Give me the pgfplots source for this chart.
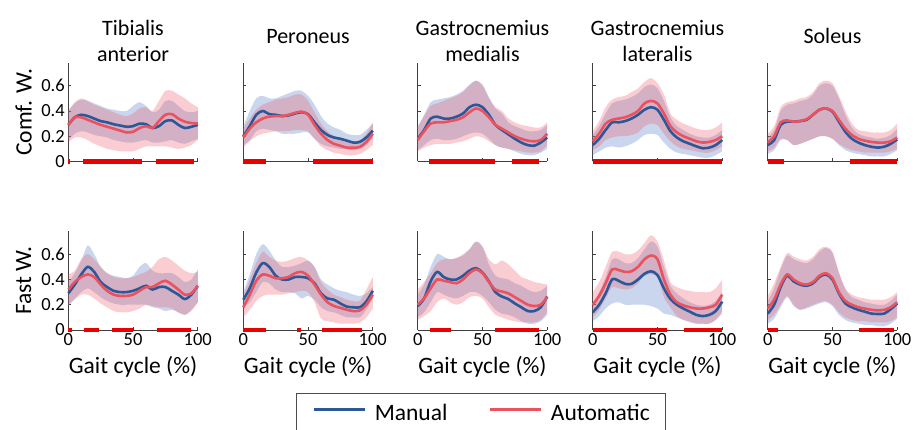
\documentclass[border=0pt]{standalone}
\usepackage{pgfplots}
\pgfplotsset{compat=1.18}
\usepackage{pgfplotstable}
\usepgfplotslibrary{fillbetween}
\usepackage{fontspec}
\setmainfont{Carlito}

\definecolor{manualc}{RGB}{44,87,152}
\definecolor{autoc}{RGB}{235,82,95}
\definecolor{manualfill}{RGB}{90,130,200}
\definecolor{autofill}{RGB}{240,90,105}
\definecolor{sigred}{RGB}{235,0,0}

\newcommand\labelfont{\fontsize{23.5}{28}\selectfont}

% columns: gait cycle (%), manual mean / lower / upper, automatic mean / lower / upper
\pgfplotstableread{
x   bm    blo  bhi  rm    rlo  rhi
0   0.29  0.17 0.40 0.29  0.15 0.40
5   0.35  0.22 0.46 0.35  0.19 0.47
10  0.37  0.24 0.49 0.35  0.19 0.50
15  0.36  0.23 0.48 0.33  0.17 0.48
20  0.34  0.21 0.46 0.31  0.14 0.45
25  0.32  0.20 0.44 0.29  0.12 0.43
30  0.31  0.19 0.42 0.275 0.10 0.41
35  0.295 0.17 0.41 0.26  0.09 0.39
40  0.285 0.16 0.40 0.245 0.08 0.37
45  0.275 0.15 0.40 0.23  0.08 0.36
50  0.28  0.15 0.44 0.235 0.08 0.38
55  0.30  0.16 0.47 0.265 0.10 0.42
60  0.295 0.17 0.44 0.28  0.12 0.43
65  0.265 0.15 0.39 0.265 0.12 0.40
70  0.28  0.15 0.41 0.32  0.12 0.48
75  0.32  0.16 0.48 0.37  0.12 0.56
80  0.325 0.17 0.48 0.375 0.11 0.56
85  0.29  0.15 0.44 0.34  0.10 0.53
90  0.265 0.14 0.40 0.315 0.11 0.50
95  0.275 0.16 0.39 0.305 0.13 0.46
100 0.29  0.18 0.40 0.30  0.17 0.43
}\taComf

\pgfplotstableread{
x   bm    blo  bhi  rm    rlo  rhi
0   0.20  0.13 0.28 0.19  0.11 0.26
5   0.28  0.17 0.40 0.26  0.16 0.34
10  0.37  0.24 0.50 0.31  0.20 0.41
15  0.40  0.26 0.52 0.34  0.22 0.45
20  0.375 0.25 0.50 0.355 0.23 0.47
25  0.37  0.24 0.50 0.36  0.24 0.49
30  0.36  0.22 0.52 0.36  0.24 0.50
35  0.365 0.22 0.54 0.37  0.24 0.51
40  0.38  0.22 0.56 0.385 0.25 0.53
45  0.39  0.23 0.56 0.395 0.25 0.53
50  0.375 0.23 0.52 0.37  0.24 0.48
55  0.31  0.18 0.45 0.29  0.18 0.39
60  0.25  0.14 0.36 0.22  0.12 0.30
65  0.21  0.12 0.30 0.17  0.09 0.24
70  0.19  0.11 0.27 0.14  0.07 0.20
75  0.18  0.10 0.25 0.125 0.06 0.18
80  0.165 0.10 0.22 0.11  0.05 0.17
85  0.15  0.09 0.21 0.11  0.05 0.16
90  0.155 0.10 0.21 0.115 0.06 0.17
95  0.19  0.13 0.25 0.155 0.09 0.22
100 0.245 0.18 0.30 0.22  0.13 0.31
}\peComf

\pgfplotstableread{
x   bm    blo  bhi  rm    rlo  rhi
0   0.18  0.09 0.27 0.17  0.08 0.28
5   0.25  0.13 0.37 0.24  0.11 0.36
10  0.34  0.17 0.47 0.30  0.13 0.44
15  0.355 0.18 0.49 0.31  0.14 0.46
20  0.34  0.17 0.50 0.31  0.14 0.48
25  0.34  0.17 0.51 0.32  0.14 0.50
30  0.355 0.18 0.53 0.33  0.15 0.52
35  0.38  0.20 0.56 0.35  0.16 0.55
40  0.43  0.22 0.61 0.39  0.18 0.60
45  0.45  0.23 0.64 0.42  0.20 0.64
50  0.43  0.22 0.61 0.40  0.19 0.60
55  0.37  0.18 0.51 0.35  0.16 0.50
60  0.29  0.13 0.42 0.29  0.13 0.43
65  0.25  0.11 0.38 0.26  0.11 0.40
70  0.215 0.10 0.31 0.23  0.10 0.34
75  0.18  0.08 0.28 0.20  0.09 0.31
80  0.15  0.06 0.26 0.18  0.08 0.29
85  0.13  0.05 0.24 0.165 0.07 0.28
90  0.125 0.05 0.24 0.16  0.07 0.27
95  0.15  0.07 0.25 0.17  0.08 0.27
100 0.19  0.10 0.29 0.22  0.13 0.31
}\gmComf

\pgfplotstableread{
x   bm    blo  bhi  rm    rlo  rhi
0   0.13  0.05 0.21 0.16  0.09 0.24
5   0.18  0.08 0.28 0.22  0.12 0.32
10  0.25  0.11 0.38 0.30  0.17 0.43
15  0.31  0.12 0.46 0.33  0.19 0.49
20  0.31  0.11 0.48 0.34  0.20 0.51
25  0.32  0.12 0.49 0.35  0.20 0.52
30  0.34  0.14 0.51 0.37  0.21 0.55
35  0.37  0.17 0.54 0.40  0.23 0.58
40  0.41  0.21 0.59 0.46  0.28 0.63
45  0.43  0.22 0.61 0.48  0.30 0.66
50  0.41  0.21 0.58 0.46  0.29 0.62
55  0.33  0.15 0.48 0.38  0.22 0.53
60  0.24  0.10 0.35 0.28  0.16 0.38
65  0.19  0.07 0.28 0.23  0.12 0.33
70  0.16  0.06 0.25 0.20  0.10 0.30
75  0.14  0.05 0.22 0.18  0.09 0.28
80  0.12  0.04 0.20 0.16  0.08 0.26
85  0.105 0.03 0.19 0.15  0.07 0.25
90  0.11  0.03 0.19 0.155 0.07 0.25
95  0.13  0.05 0.21 0.17  0.09 0.27
100 0.17  0.08 0.25 0.20  0.12 0.31
}\glComf

\pgfplotstableread{
x   bm    blo  bhi  rm    rlo  rhi
0   0.13  0.06 0.19 0.15  0.08 0.22
5   0.17  0.09 0.25 0.20  0.11 0.28
10  0.29  0.17 0.40 0.31  0.18 0.43
15  0.315 0.17 0.45 0.325 0.17 0.47
20  0.315 0.13 0.46 0.315 0.13 0.48
25  0.32  0.14 0.48 0.32  0.14 0.50
30  0.33  0.16 0.49 0.335 0.16 0.51
35  0.37  0.18 0.53 0.37  0.18 0.55
40  0.41  0.20 0.60 0.41  0.20 0.62
45  0.42  0.20 0.62 0.42  0.20 0.64
50  0.395 0.18 0.60 0.40  0.18 0.62
55  0.315 0.13 0.50 0.33  0.14 0.52
60  0.235 0.09 0.37 0.26  0.11 0.40
65  0.18  0.07 0.27 0.21  0.09 0.30
70  0.15  0.06 0.22 0.18  0.08 0.25
75  0.13  0.05 0.20 0.165 0.07 0.24
80  0.117 0.04 0.19 0.155 0.07 0.23
85  0.11  0.04 0.18 0.15  0.07 0.23
90  0.117 0.04 0.19 0.15  0.07 0.23
95  0.14  0.06 0.21 0.16  0.08 0.25
100 0.175 0.09 0.26 0.19  0.10 0.30
}\soComf

\pgfplotstableread{
x   bm    blo  bhi  rm    rlo  rhi
0   0.29  0.20 0.38 0.32  0.19 0.44
5   0.36  0.25 0.45 0.38  0.24 0.47
10  0.44  0.30 0.55 0.42  0.28 0.56
15  0.50  0.33 0.67 0.44  0.28 0.60
20  0.46  0.30 0.60 0.42  0.25 0.56
25  0.38  0.26 0.50 0.36  0.21 0.50
30  0.34  0.23 0.45 0.31  0.18 0.45
35  0.31  0.21 0.43 0.28  0.15 0.42
40  0.30  0.20 0.42 0.27  0.14 0.41
45  0.30  0.20 0.41 0.27  0.14 0.41
50  0.31  0.20 0.43 0.28  0.15 0.42
55  0.33  0.20 0.50 0.31  0.17 0.44
60  0.35  0.20 0.53 0.34  0.20 0.46
65  0.32  0.18 0.47 0.34  0.19 0.50
70  0.34  0.17 0.45 0.37  0.18 0.56
75  0.34  0.15 0.45 0.39  0.18 0.58
80  0.31  0.16 0.45 0.36  0.17 0.55
85  0.28  0.14 0.42 0.32  0.14 0.51
90  0.245 0.12 0.38 0.28  0.12 0.47
95  0.28  0.16 0.40 0.29  0.15 0.45
100 0.35  0.22 0.48 0.35  0.22 0.46
}\taFast

\pgfplotstableread{
x   bm    blo  bhi  rm    rlo  rhi
0   0.24  0.18 0.30 0.18  0.10 0.27
5   0.33  0.22 0.44 0.28  0.16 0.40
10  0.455 0.30 0.60 0.39  0.23 0.53
15  0.53  0.38 0.68 0.44  0.27 0.62
20  0.50  0.37 0.63 0.43  0.28 0.58
25  0.43  0.32 0.55 0.41  0.28 0.55
30  0.40  0.30 0.50 0.41  0.28 0.54
35  0.40  0.30 0.50 0.42  0.29 0.55
40  0.42  0.29 0.51 0.45  0.30 0.57
45  0.42  0.25 0.53 0.46  0.31 0.58
50  0.41  0.27 0.55 0.43  0.30 0.55
55  0.37  0.24 0.50 0.36  0.22 0.50
60  0.29  0.18 0.40 0.28  0.09 0.38
65  0.25  0.15 0.36 0.22  0.07 0.32
70  0.24  0.14 0.33 0.19  0.06 0.28
75  0.21  0.12 0.31 0.175 0.05 0.26
80  0.185 0.10 0.30 0.16  0.05 0.24
85  0.18  0.10 0.28 0.15  0.05 0.23
90  0.18  0.10 0.27 0.155 0.06 0.23
95  0.225 0.16 0.29 0.20  0.10 0.32
100 0.31  0.25 0.34 0.28  0.17 0.42
}\peFast

\pgfplotstableread{
x   bm    blo  bhi  rm    rlo  rhi
0   0.19  0.10 0.28 0.20  0.08 0.32
5   0.25  0.14 0.36 0.25  0.11 0.38
10  0.385 0.22 0.50 0.33  0.15 0.45
15  0.46  0.30 0.60 0.40  0.22 0.53
20  0.42  0.28 0.58 0.39  0.25 0.56
25  0.40  0.26 0.56 0.38  0.22 0.56
30  0.40  0.25 0.57 0.37  0.20 0.57
35  0.43  0.27 0.59 0.40  0.22 0.60
40  0.47  0.30 0.64 0.45  0.26 0.64
45  0.49  0.30 0.70 0.48  0.27 0.70
50  0.455 0.27 0.66 0.45  0.25 0.66
55  0.385 0.22 0.52 0.38  0.18 0.56
60  0.30  0.16 0.43 0.32  0.12 0.52
65  0.265 0.13 0.41 0.305 0.10 0.55
70  0.245 0.12 0.40 0.29  0.08 0.52
75  0.21  0.10 0.37 0.26  0.07 0.47
80  0.18  0.07 0.35 0.23  0.06 0.42
85  0.15  0.05 0.32 0.20  0.06 0.40
90  0.15  0.05 0.30 0.19  0.06 0.38
95  0.18  0.07 0.31 0.20  0.08 0.37
100 0.265 0.12 0.35 0.26  0.14 0.36
}\gmFast

\pgfplotstableread{
x   bm    blo  bhi  rm    rlo  rhi
0   0.14  0.07 0.21 0.20  0.10 0.30
5   0.20  0.11 0.30 0.27  0.16 0.38
10  0.29  0.17 0.42 0.37  0.25 0.50
15  0.40  0.21 0.56 0.48  0.34 0.62
20  0.39  0.22 0.56 0.475 0.33 0.62
25  0.365 0.20 0.53 0.46  0.32 0.60
30  0.365 0.20 0.53 0.465 0.33 0.60
35  0.40  0.20 0.57 0.50  0.37 0.63
40  0.445 0.20 0.64 0.56  0.43 0.69
45  0.465 0.19 0.70 0.59  0.44 0.75
50  0.435 0.17 0.66 0.56  0.42 0.70
55  0.33  0.13 0.50 0.40  0.26 0.55
60  0.245 0.12 0.35 0.28  0.18 0.38
65  0.20  0.10 0.29 0.22  0.11 0.34
70  0.17  0.08 0.25 0.195 0.08 0.32
75  0.145 0.06 0.22 0.18  0.07 0.31
80  0.12  0.05 0.20 0.17  0.05 0.30
85  0.11  0.05 0.19 0.17  0.05 0.30
90  0.12  0.05 0.20 0.18  0.05 0.30
95  0.15  0.08 0.23 0.20  0.08 0.33
100 0.225 0.13 0.30 0.28  0.15 0.40
}\glFast

\pgfplotstableread{
x   bm    blo  bhi  rm    rlo  rhi
0   0.13  0.05 0.23 0.17  0.08 0.27
5   0.20  0.09 0.33 0.24  0.12 0.37
10  0.34  0.18 0.48 0.36  0.20 0.50
15  0.43  0.26 0.59 0.44  0.27 0.61
20  0.385 0.19 0.56 0.40  0.20 0.58
25  0.36  0.16 0.54 0.37  0.16 0.56
30  0.35  0.17 0.53 0.36  0.18 0.55
35  0.37  0.19 0.56 0.38  0.20 0.58
40  0.42  0.21 0.62 0.43  0.22 0.64
45  0.44  0.22 0.65 0.45  0.23 0.66
50  0.40  0.19 0.61 0.41  0.20 0.62
55  0.29  0.12 0.45 0.30  0.14 0.46
60  0.21  0.08 0.32 0.23  0.10 0.33
65  0.18  0.06 0.26 0.20  0.08 0.28
70  0.16  0.05 0.24 0.18  0.07 0.26
75  0.145 0.04 0.22 0.17  0.07 0.25
80  0.13  0.04 0.21 0.16  0.06 0.24
85  0.127 0.03 0.20 0.155 0.06 0.24
90  0.13  0.03 0.20 0.16  0.06 0.24
95  0.165 0.05 0.23 0.18  0.07 0.26
100 0.21  0.09 0.28 0.22  0.10 0.30
}\soFast

\pgfplotsset{
  panel/.style={
    scale only axis, width=129.5pt, height=98.5pt, anchor=south west,
    xmin=0, xmax=100, ymin=0, ymax=0.78,
    axis x line*=bottom, axis y line*=left,
    xtick={0,50,100}, ytick={0,0.2,0.4,0.6},
    xticklabels={}, yticklabels={},
    tick align=inside, major tick length=3pt,
    axis line style={draw=black!75, line width=0.9pt},
    tick style={draw=black!75, line width=0.8pt},
    ticklabel style={font=\fontsize{18.5}{20}\selectfont},
    clip=false,
    title style={at={(0.5,1.21)}, anchor=center, align=center,
      font=\fontsize{22}{26}\selectfont},
    xlabel style={at={(axis description cs:0.5,-0.37)}, anchor=center},
  },
  twolinetitle/.style={title style={yshift=-5pt}},
  leftcol/.style={yticklabels={0,0.2,0.4,0.6}},
  rowlabel/.style={extra description/.code={%
      \node[rotate=90, anchor=center, font=\labelfont] at (-0.345,0.5) {#1};}},
  bottomrow/.style={xticklabels={0,50,100}, xlabel={\labelfont Gait cycle (\%)}},
  manualline/.style={draw=manualc, line width=2.6pt},
  autoline/.style={draw=autoc, line width=2.6pt},
  sig/.style={draw=sigred, line width=4.5pt, forget plot},
}

% one muscle: #1 lower-left corner, #2 table, #3 axis options, #4 significance bars
\newcommand\musclepanel[4]{%
\begin{axis}[panel, at={#1}, #3]
  \addplot[name path=bhi, draw=none, smooth, forget plot] table[x=x, y=bhi] {#2};
  \addplot[name path=blo, draw=none, smooth, forget plot] table[x=x, y=blo] {#2};
  \addplot[fill=manualfill, fill opacity=0.33, draw=none, forget plot] fill between[of=bhi and blo];
  \addplot[manualline, smooth, forget plot] table[x=x, y=bm] {#2};
  \addplot[name path=rhi, draw=none, smooth, forget plot] table[x=x, y=rhi] {#2};
  \addplot[name path=rlo, draw=none, smooth, forget plot] table[x=x, y=rlo] {#2};
  \addplot[fill=autofill, fill opacity=0.3, draw=none, forget plot] fill between[of=rhi and rlo];
  \addplot[autoline, smooth, forget plot] table[x=x, y=rm] {#2};
  #4
\end{axis}}

\begin{document}
\begin{tikzpicture}

% comfortable walking speed
\musclepanel{(68.3pt,267.5pt)}{\taComf}{leftcol, rowlabel={Comf. W.}, twolinetitle, title={Tibialis\\anterior}}{%
  \addplot[sig] coordinates {(0,0) (1,0)};
  \addplot[sig] coordinates {(11.6,0) (56.7,0)};
  \addplot[sig] coordinates {(67.5,0) (97.2,0)};}
\musclepanel{(243.3pt,267.5pt)}{\peComf}{title={Peroneus}}{%
  \addplot[sig] coordinates {(0,0) (17.4,0)};
  \addplot[sig] coordinates {(53.8,0) (100,0)};}
\musclepanel{(417.7pt,267.5pt)}{\gmComf}{twolinetitle, title={Gastrocnemius\\medialis}}{%
  \addplot[sig] coordinates {(9,0) (59.5,0)};
  \addplot[sig] coordinates {(72.8,0) (94,0)};}
\musclepanel{(592.7pt,267.5pt)}{\glComf}{twolinetitle, title={Gastrocnemius\\lateralis}}{%
  \addplot[sig] coordinates {(0,0) (100,0)};}
\musclepanel{(767.7pt,267.5pt)}{\soComf}{title={Soleus}}{%
  \addplot[sig] coordinates {(0,0) (12.8,0)};
  \addplot[sig] coordinates {(63.3,0) (100,0)};}

% fast walking speed
\musclepanel{(68.3pt,99pt)}{\taFast}{leftcol, bottomrow, rowlabel={Fast W.}}{%
  \addplot[sig] coordinates {(0,0) (3,0)};
  \addplot[sig] coordinates {(12.4,0) (23.7,0)};
  \addplot[sig] coordinates {(34,0) (50.3,0)};
  \addplot[sig] coordinates {(68.3,0) (94.8,0)};}
\musclepanel{(243.3pt,99pt)}{\peFast}{bottomrow}{%
  \addplot[sig] coordinates {(0,0) (17.4,0)};
  \addplot[sig] coordinates {(41.8,0) (44.4,0)};
  \addplot[sig] coordinates {(60.8,0) (91.5,0)};}
\musclepanel{(417.7pt,99pt)}{\gmFast}{bottomrow,
    legend columns=2,
    legend style={at={(axis description cs:0.489,-0.643)}, anchor=north,
      draw=black!70, line width=1pt, fill=white,
      font=\labelfont,
      inner xsep=16pt, inner ysep=10pt,
      nodes={inner sep=0pt},
      /tikz/every odd column/.append style={column sep=8.5pt},
      /tikz/every even column/.append style={column sep=41pt}},
    legend image code/.code={\draw[#1, line width=3pt] (0pt,0.35em) -- (51pt,0.35em);}}{%
  \addplot[sig] coordinates {(9.5,0) (25.6,0)};
  \addplot[sig] coordinates {(60,0) (93.3,0)};
  \addlegendimage{draw=manualc}
  \addlegendentry{Manual}
  \addlegendimage{draw=autoc}
  \addlegendentry{Automatic}}
\musclepanel{(592.7pt,99pt)}{\glFast}{bottomrow}{%
  \addplot[sig] coordinates {(0,0) (57.4,0)};
  \addplot[sig] coordinates {(70.2,0) (100,0)};}
\musclepanel{(767.7pt,99pt)}{\soFast}{bottomrow}{%
  \addplot[sig] coordinates {(0,0) (7.7,0)};
  \addplot[sig] coordinates {(70.3,0) (97.2,0)};}

% fixed page frame
\pgfresetboundingbox
\useasboundingbox (0pt,0pt) rectangle (914pt,429pt);
\end{tikzpicture}
\end{document}
